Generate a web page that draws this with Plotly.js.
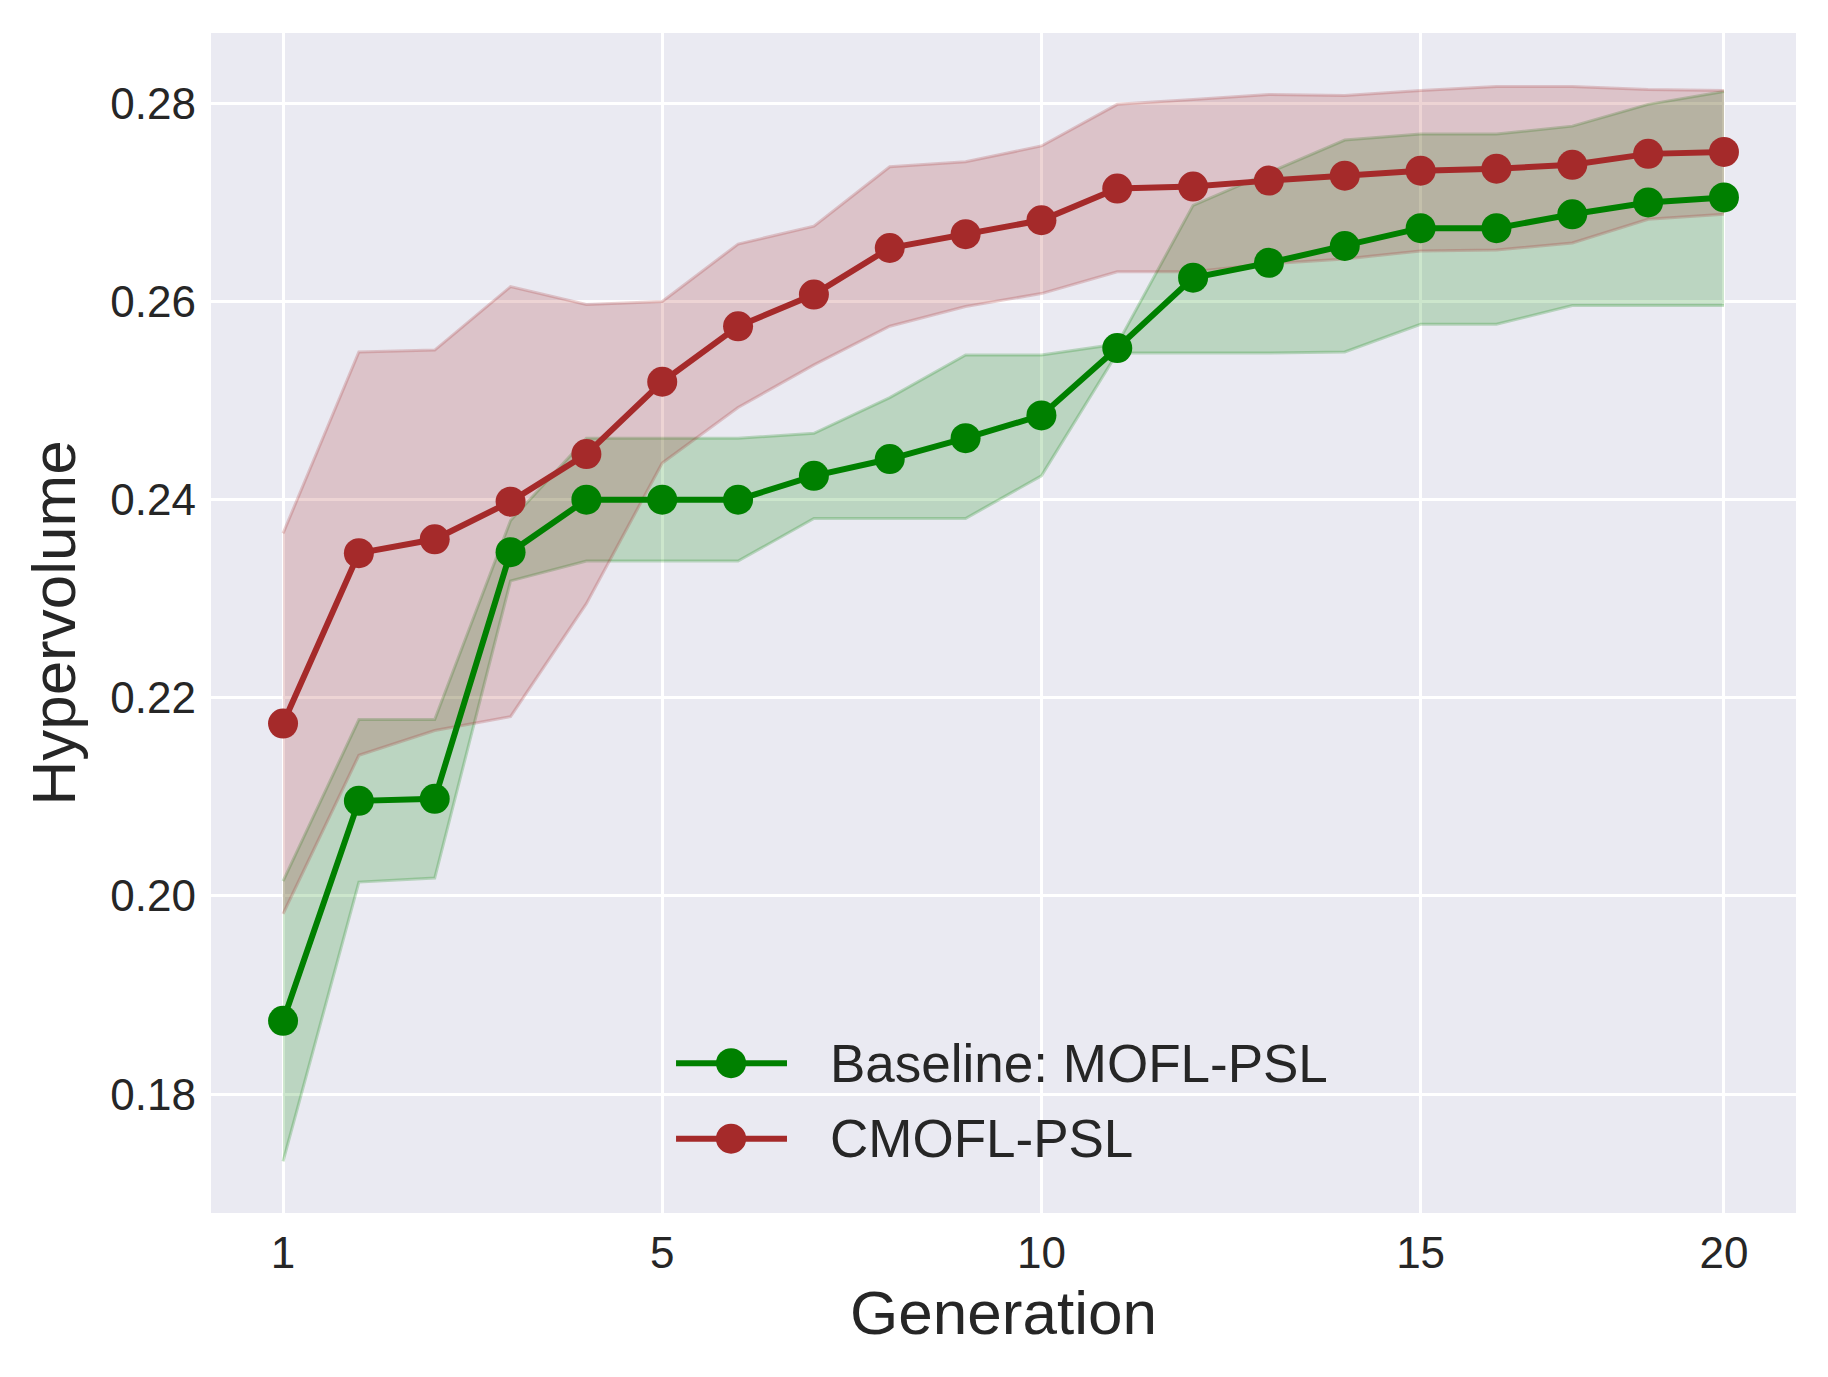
<!DOCTYPE html>
<html>
<head>
<meta charset="utf-8">
<script src="https://cdn.plot.ly/plotly-3.0.1.min.js"></script>
<style>
  html, body { margin: 0; padding: 0; background: #ffffff; }
  #chart { width: 1828px; height: 1377px; }
</style>
</head>
<body>
<div id="chart"></div>
<script>
// generation positions (index of each evaluated generation)
var genPos = [0, 1, 2, 3, 4, 5, 6, 7, 8, 9, 10, 11, 12, 13, 14, 15, 16, 17, 18, 19];
var tickPos = [0, 5, 10, 15, 19];
var tickText = ['1', '5', '10', '15', '20'];
var yTicks = [0.18, 0.20, 0.22, 0.24, 0.26, 0.28];
var yTickText = ['0.18', '0.20', '0.22', '0.24', '0.26', '0.28'];

// Baseline: MOFL-PSL
var baseMean = [0.1874, 0.2096, 0.2098, 0.2347, 0.2400, 0.2400, 0.2400, 0.2424, 0.2441, 0.2462,
                0.2485, 0.2553, 0.2624, 0.2639, 0.2656, 0.2674, 0.2674, 0.2688, 0.2700, 0.2705];
var baseUpper = [0.2015, 0.2178, 0.2178, 0.2379, 0.2462, 0.2462, 0.2462, 0.2467, 0.2503, 0.2546,
                 0.2546, 0.2557, 0.2697, 0.2730, 0.2763, 0.2769, 0.2769, 0.2777, 0.2799, 0.2812];
var baseLower = [0.1732, 0.2014, 0.2018, 0.2318, 0.2338, 0.2338, 0.2338, 0.2381, 0.2381, 0.2381,
                 0.2424, 0.2548, 0.2548, 0.2548, 0.2549, 0.2577, 0.2577, 0.2596, 0.2596, 0.2596];

// CMOFL-PSL
var cmoMean = [0.2174, 0.2346, 0.2360, 0.2398, 0.2446, 0.2519, 0.2575, 0.2607, 0.2654, 0.2668,
               0.2682, 0.2714, 0.2716, 0.2722, 0.2727, 0.2732, 0.2734, 0.2738, 0.2749, 0.2751];
var cmoUpper = [0.2366, 0.2549, 0.2551, 0.2615, 0.2597, 0.2600, 0.2658, 0.2676, 0.2736, 0.2741,
                0.2757, 0.2799, 0.2804, 0.2809, 0.2808, 0.2813, 0.2817, 0.2817, 0.2814, 0.2813];
var cmoLower = [0.1982, 0.2142, 0.2167, 0.2181, 0.2295, 0.2437, 0.2493, 0.2536, 0.2575, 0.2595,
                0.2608, 0.2630, 0.2630, 0.2638, 0.2643, 0.2651, 0.2652, 0.2659, 0.2683, 0.2688];

var seriesNames = ['Baseline: MOFL-PSL', 'CMOFL-PSL'];
var green = '#008000';
var brown = '#a52a2a';

function band(lower, upper, rgb) {
  var edge = 'rgba(' + rgb + ',0.22)';
  return [
    { x: genPos, y: lower, type: 'scatter', mode: 'lines', showlegend: false, hoverinfo: 'skip',
      line: { color: edge, width: 3 } },
    { x: genPos, y: upper, type: 'scatter', mode: 'lines', showlegend: false, hoverinfo: 'skip',
      fill: 'tonexty', fillcolor: 'rgba(' + rgb + ',0.2)', line: { color: edge, width: 3 } }
  ];
}

var data = []
  .concat(band(baseLower, baseUpper, '0,128,0'))
  .concat(band(cmoLower, cmoUpper, '165,42,42'))
  .concat([
    { x: genPos, y: baseMean, type: 'scatter', mode: 'lines+markers', name: seriesNames[0],
      showlegend: false, line: { color: green, width: 6 }, marker: { color: green, size: 30 } },
    { x: genPos, y: cmoMean, type: 'scatter', mode: 'lines+markers', name: seriesNames[1],
      showlegend: false, line: { color: brown, width: 6 }, marker: { color: brown, size: 30 } }
  ]);

// legend drawn by hand so the sample line and marker match matplotlib's size
var legColors = [green, brown];
var legRows = [0.127, 0.063];
var shapes = [];
var annotations = [];
legRows.forEach(function (ly, i) {
  shapes.push({ type: 'line', xref: 'paper', yref: 'paper', x0: 0.2934, x1: 0.3634, y0: ly, y1: ly,
                line: { color: legColors[i], width: 6 }, layer: 'above' });
  shapes.push({ type: 'circle', xref: 'paper', yref: 'paper',
                x0: 0.3281 - 0.0095, x1: 0.3281 + 0.0095, y0: ly - 0.0127, y1: ly + 0.0127,
                fillcolor: legColors[i], line: { color: legColors[i], width: 0 }, layer: 'above' });
  annotations.push({ xref: 'paper', yref: 'paper', x: 0.3893, y: ly, xanchor: 'left', yanchor: 'middle',
                     text: seriesNames[i], showarrow: false, font: { size: 53, color: '#262626' } });
});

var layout = {
  width: 1828,
  height: 1377,
  paper_bgcolor: '#ffffff',
  plot_bgcolor: '#eaeaf2',
  font: { family: 'Liberation Sans, Arial, sans-serif', color: '#262626' },
  margin: { l: 211, r: 32, t: 33, b: 164 },
  showlegend: false,
  shapes: shapes,
  annotations: annotations,
  xaxis: {
    range: [-0.95, 19.95],
    tickvals: tickPos, ticktext: tickText,
    showgrid: true, gridcolor: '#ffffff', gridwidth: 3,
    zeroline: false, showline: false, ticks: '',
    ticklabelstandoff: 10,
    tickfont: { size: 44, color: '#262626' },
    title: { text: 'Generation', font: { size: 62, color: '#262626' }, standoff: 14 }
  },
  yaxis: {
    range: [0.168, 0.2871],
    tickvals: yTicks, ticktext: yTickText,
    showgrid: true, gridcolor: '#ffffff', gridwidth: 3,
    zeroline: false, showline: false, ticks: '',
    ticklabelstandoff: 14,
    tickfont: { size: 44, color: '#262626' },
    title: { text: 'Hypervolume', font: { size: 62, color: '#262626' }, standoff: 14 }
  }
};

Plotly.newPlot('chart', data, layout, { displayModeBar: false, staticPlot: true });
</script>
</body>
</html>
